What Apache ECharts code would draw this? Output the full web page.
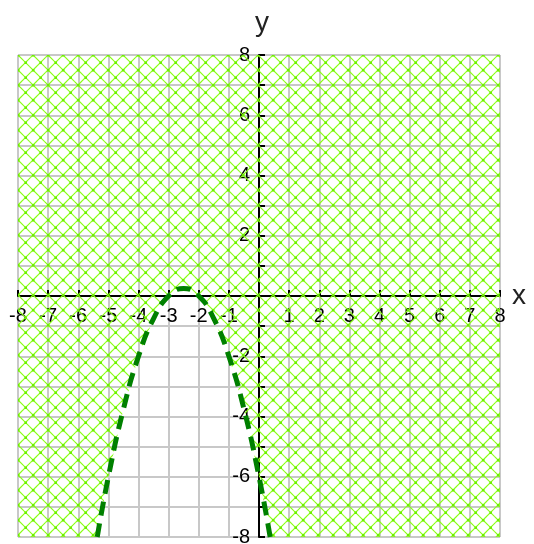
<!DOCTYPE html>
<html>
<head>
<meta charset="utf-8">
<script src="https://cdn.jsdelivr.net/npm/echarts@6/dist/echarts.min.js"></script>
<style>html,body{margin:0;padding:0;background:#fff;}#c{width:534px;height:544px;}</style>
</head>
<body>
<div id="c"></div>
<script>
// Axis ranges and ticks
const xMin = -8, xMax = 8, yMin = -8, yMax = 8;
const tickStep = 1;
const yLabelStep = 2;
// Boundary curve (dashed)
const curveX = [-5.37, -5, -4.5, -4, -3.5, -3, -2.5, -2, -1.5, -1, -0.5, 0, 0.37];
const curveY = [-8, -6, -3.75, -2, -0.75, 0, 0.25, 0, -0.75, -2, -3.75, -6, -8];

const GRID = {left: 18, top: 55, width: 482, height: 482};

// Cross-hatch pattern tile
function makePattern() {
  const P = 15;
  const cv = document.createElement('canvas');
  cv.width = P; cv.height = P;
  const ctx = cv.getContext('2d');
  const ox = ((GRID.left % P) + P) % P, oy = ((GRID.top % P) + P) % P;
  ctx.strokeStyle = '#88ff11';
  ctx.lineWidth = 1.1;
  for (let dx = -2; dx <= 2; dx++) {
    for (let dy = -2; dy <= 2; dy++) {
      const bx = ox + dx * P, by = oy + dy * P;
      ctx.beginPath(); ctx.moveTo(bx, by); ctx.lineTo(bx + P, by + P); ctx.stroke();
      ctx.beginPath(); ctx.moveTo(bx + P, by); ctx.lineTo(bx, by + P); ctx.stroke();
    }
  }
  ctx.fillStyle = '#6cf000';
  for (let dx = -2; dx <= 2; dx++) {
    for (let dy = -2; dy <= 2; dy++) {
      const bx = ox + dx * P, by = oy + dy * P;
      ctx.fillRect(bx - 1, by - 1, 2.5, 2.5);
      ctx.fillRect(bx + P / 2 - 1, by + P / 2 - 1, 2.5, 2.5);
    }
  }
  return cv;
}
const pattern = {image: makePattern(), repeat: 'repeat'};

// Shaded region = plot rectangle minus interior of the curve
const shadeX = [xMin, xMin, xMax, xMax].concat(curveX.slice().reverse());
const shadeY = [yMin, yMax, yMax, yMin].concat(curveY.slice().reverse());

const labelFont = "'Liberation Sans', Arial, sans-serif";
const fmtX = v => (v === 0 ? '' : String(v));
const fmtY = v => (v === 0 || v % yLabelStep !== 0 ? '' : String(v));

// Offsets that place the axes through the origin
const xAxisOffset = -GRID.height * (0 - yMin) / (yMax - yMin);
const yAxisOffset = -GRID.width * (0 - xMin) / (xMax - xMin);

const chart = echarts.init(document.getElementById('c'), null, {renderer: 'canvas'});
chart.setOption({
  animation: false,
  backgroundColor: '#ffffff',
  grid: Object.assign({containLabel: false, outerBoundsMode: 'none'}, GRID),
  xAxis: {
    type: 'value', min: xMin, max: xMax, interval: tickStep,
    position: 'bottom', offset: xAxisOffset,
    name: 'x', nameLocation: 'end', nameGap: 12,
    nameTextStyle: {fontSize: 28, color: '#222', fontFamily: 'Liberation Sans, Arial, sans-serif', verticalAlign: 'middle', padding: [8, 0, 0, 0]},
    axisLine: {onZero: false, lineStyle: {color: '#000', width: 2}},
    axisTick: {inside: true, length: 6, lineStyle: {color: '#000', width: 2}},
    axisLabel: {formatter: fmtX, fontSize: 20, color: '#000', fontFamily: labelFont, margin: 10, showMinLabel: true, showMaxLabel: true},
    splitLine: {show: true, lineStyle: {color: '#c8c8c8', width: 2}}
  },
  yAxis: {
    type: 'value', min: yMin, max: yMax, interval: tickStep,
    position: 'left', offset: yAxisOffset,
    name: 'y', nameLocation: 'end', nameGap: 18,
    nameTextStyle: {fontSize: 28, color: '#222', fontFamily: 'Liberation Sans, Arial, sans-serif', align: 'center', padding: [0, 0, 0, 6]},
    axisLine: {onZero: false, lineStyle: {color: '#000', width: 2}},
    axisTick: {inside: true, length: 6, lineStyle: {color: '#000', width: 2}},
    axisLabel: {formatter: fmtY, fontSize: 20, color: '#000', fontFamily: labelFont, margin: 9, showMinLabel: true, showMaxLabel: true},
    splitLine: {show: true, lineStyle: {color: '#c8c8c8', width: 2}}
  },
  series: [
    {
      type: 'custom',
      silent: true,
      z: 1,
      data: [[0, 0]],
      renderItem: function (params, api) {
        const pts = shadeX.map((x, i) => api.coord([x, shadeY[i]]));
        return {type: 'polygon', shape: {points: pts}, style: {fill: pattern, stroke: null}};
      }
    },
    {
      type: 'line',
      z: 3,
      data: curveX.map((x, i) => [x, curveY[i]]),
      smooth: true,
      symbol: 'none',
      lineStyle: {color: '#008000', width: 5, type: [14, 8], cap: 'butt'}
    }
  ]
});
</script>
</body>
</html>
